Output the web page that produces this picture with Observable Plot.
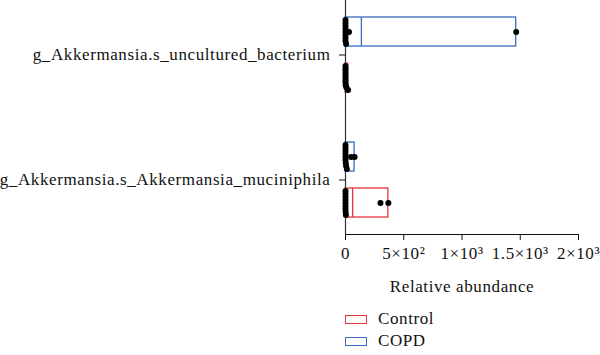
<!DOCTYPE html>
<html>
<head>
<meta charset="utf-8">
<script src="https://cdn.jsdelivr.net/npm/d3@7"></script>
<script src="https://cdn.jsdelivr.net/npm/@observablehq/plot@0.6"></script>
<style>
  html, body { margin: 0; padding: 0; background: #fff; }
  body { width: 600px; height: 355px; overflow: hidden; font-family: "Liberation Serif", "DejaVu Serif", serif; }
  #chart svg text { letter-spacing: 0.6px; }
  #legend { padding-top: 8px; margin-left: 345px; }
  .row { display: flex; align-items: center; height: 22px; font-size: 17px; letter-spacing: 0.6px; color: #111; }
  .sw { width: 20px; height: 7px; border: 1.3px solid; background: #fff; margin-right: 11px; }
</style>
</head>
<body>
<div id="chart"></div>
<div id="legend"></div>
<script>
// ---- data ----
const species = ["g_Akkermansia.s_uncultured_bacterium", "g_Akkermansia.s_Akkermansia_muciniphila"];
const groups = ["COPD", "Control"];
const legendOrder = ["Control", "COPD"];
const groupColors = {COPD: "#3a6bc0", Control: "#e8333c"};

const uncCOPD    = [0, 0, 0, 0, 0, 0, 0, 0, 5, 30, 1465];
const uncControl = [0, 0, 0, 0, 0, 0, 0, 0, 2, 8, 22];
const mucCOPD    = [0, 0, 0, 0, 0, 0, 2, 5, 12, 48, 78];
const mucControl = [0, 0, 0, 0, 0, 0, 0, 1, 3, 300, 368];

const xTicks = [0, 500, 1000, 1500, 2000];
const xTickLabels = ["0", "5×10²", "1×10³", "1.5×10³", "2×10³"];

// ---- build tables ----
const sets = [
  {species: species[0], group: "COPD", values: uncCOPD},
  {species: species[0], group: "Control", values: uncControl},
  {species: species[1], group: "COPD", values: mucCOPD},
  {species: species[1], group: "Control", values: mucControl}
];
const stats = sets.map(s => ({
  species: s.species, group: s.group,
  min: d3.min(s.values), max: d3.max(s.values), mean: d3.mean(s.values)
}));

// points: near-zero values pile up vertically inside the box, others sit on the centre line
const pileLimit = 25, pileHalf = 12;
const points = [];
for (const s of sets) {
  const pile = s.values.filter(v => v < pileLimit);
  const m = pile.length;
  pile.forEach((v, k) => points.push({species: s.species, group: s.group, value: v,
    off: m > 1 ? Math.round((k - (m - 1) / 2) * (2 * pileHalf / (m - 1)) * 10) / 10 : 0}));
  s.values.filter(v => v >= pileLimit).forEach(v =>
    points.push({species: s.species, group: s.group, value: v, off: 0}));
}
const offsets = [...new Set(points.map(d => d.off))];

const chart = Plot.plot({
  width: 600,
  height: 300,
  marginTop: 0,
  marginBottom: 66,
  marginLeft: 345,
  marginRight: 22,
  style: {fontFamily: '"Liberation Serif", "DejaVu Serif", serif', fontSize: "17px", color: "#111", background: "#fff"},
  x: {
    domain: [0, 2000], ticks: xTicks,
    tickFormat: d => xTickLabels[xTicks.indexOf(d)],
    tickSize: 6, tickPadding: 6, line: true,
    label: "Relative abundance", labelAnchor: "center", labelOffset: 57, labelArrow: "none"
  },
  y: {domain: groups, axis: null, paddingInner: 0.37, paddingOuter: 0.366},
  fy: {domain: species, axis: "left", label: null, paddingInner: 0.132, paddingOuter: 0, tickSize: 6, tickPadding: 9},
  color: {domain: groups, range: groups.map(g => groupColors[g])},
  marks: [
    Plot.barX(stats, {x1: "min", x2: "max", y: "group", fy: "species", fill: "white", stroke: "group", strokeWidth: 1.3}),
    Plot.tickX(stats, {x: "mean", y: "group", fy: "species", stroke: "group", strokeWidth: 1.3}),
    Plot.ruleX([0], {stroke: "#333", strokeWidth: 1.2, insetTop: -17}),
    ...offsets.map(o => Plot.dot(points, {
      filter: d => d.off === o, x: "value", y: "group", fy: "species",
      r: 3, fill: "black", stroke: "none", dy: o
    }))
  ]
});
document.getElementById("chart").appendChild(chart);

const legend = document.getElementById("legend");
for (const g of legendOrder) {
  const row = document.createElement("div");
  row.className = "row";
  const sw = document.createElement("span");
  sw.className = "sw";
  sw.style.borderColor = groupColors[g];
  row.appendChild(sw);
  row.appendChild(document.createTextNode(g));
  legend.appendChild(row);
}
</script>
</body>
</html>
